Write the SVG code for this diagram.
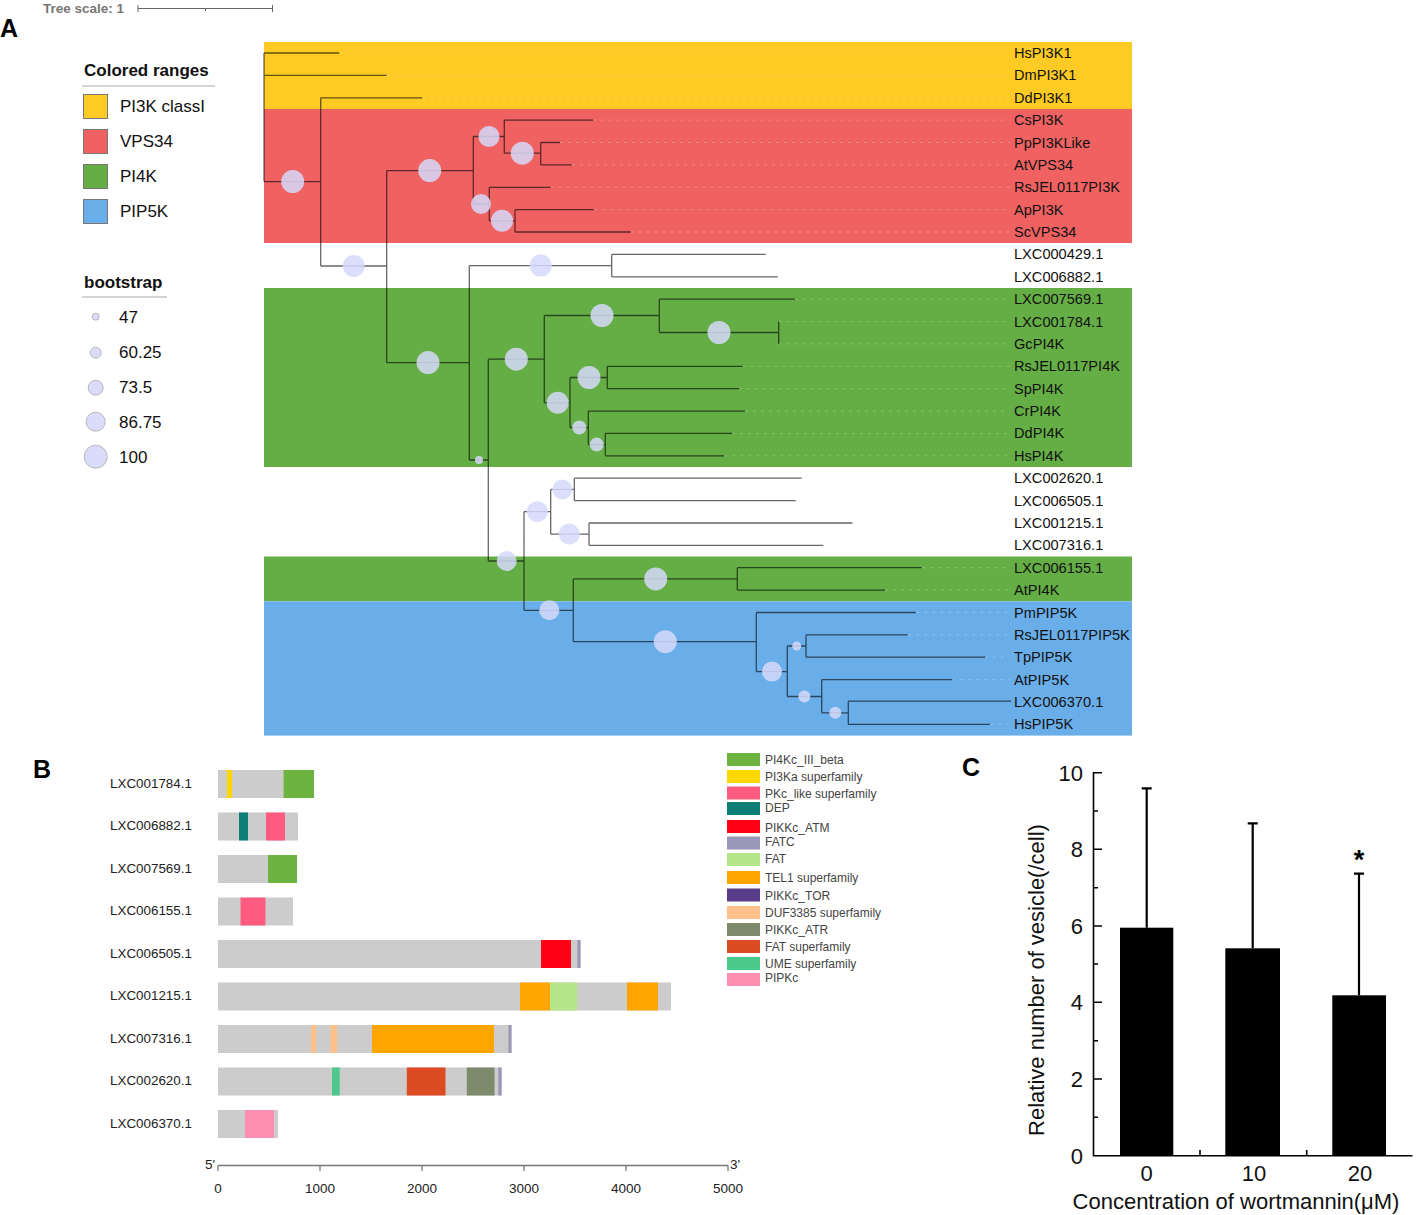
<svg xmlns="http://www.w3.org/2000/svg" width="1416" height="1215" viewBox="0 0 1416 1215">
<style>
text{font-family:"Liberation Sans",Arial,sans-serif;fill:#111}
.leaf{font-size:14.6px}
.br{stroke:#000;stroke-opacity:0.6;stroke-width:1.3;fill:none}
.ld{stroke:#e8e8e8;stroke-opacity:0.3;stroke-width:1;stroke-dasharray:3 5;fill:none}
.bs{fill:#d6d9fa;fill-opacity:0.85}
.lg{font-size:17px}
.lgb{font-size:17px;font-weight:bold}
.blab{font-size:13.4px;fill:#222}
.dl{font-size:12px;fill:#444}
.ax{font-size:13.5px;fill:#222}
.ct{font-size:22px;fill:#111}
.pl{font-size:25px;font-weight:bold;fill:#000}
</style>

<!-- Panel A -->
<text class="pl" x="0" y="37">A</text>
<g id="tree-scale">
<text x="43" y="13" style="font-size:13.5px;font-weight:bold;fill:#777">Tree scale: 1</text>
<path d="M138 8.5H272.5M138 5V12M272.5 5V12M205.5 8.5V11" stroke="#666" stroke-width="1" fill="none"/>
</g>

<g id="colored-ranges">
<rect x="264" y="42" width="868" height="67" fill="#fecb24"/>
<rect x="264" y="109" width="868" height="134" fill="#f06262"/>
<rect x="264" y="288" width="868" height="179" fill="#65ae45"/>
<rect x="264" y="556.5" width="868" height="44.8" fill="#65ae45"/>
<rect x="264" y="601.3" width="868" height="134.3" fill="#6aaee9"/>
</g>

<g id="legend-ranges">
<text class="lgb" x="84" y="76">Colored ranges</text>
<line x1="82" y1="86" x2="215" y2="86" stroke="#aaa" stroke-width="1.2"/>
<rect x="83.5" y="94.5" width="24" height="24" fill="#fecb24" stroke="#777"/>
<text class="lg" x="120" y="112">PI3K classI</text>
<rect x="83.5" y="129.5" width="24" height="24" fill="#f06262" stroke="#777"/>
<text class="lg" x="120" y="147">VPS34</text>
<rect x="83.5" y="164.5" width="24" height="24" fill="#65ae45" stroke="#777"/>
<text class="lg" x="120" y="182">PI4K</text>
<rect x="83.5" y="199.5" width="24" height="24" fill="#6aaee9" stroke="#777"/>
<text class="lg" x="120" y="217">PIP5K</text>
</g>

<g id="legend-bootstrap">
<text class="lgb" x="84" y="288">bootstrap</text>
<line x1="82" y1="297" x2="167" y2="297" stroke="#aaa" stroke-width="1.2"/>
<circle cx="95.7" cy="316.7" r="3.5" fill="#dadcfa" stroke="#aaa" stroke-width="0.8"/>
<text class="lg" x="119" y="322.5">47</text>
<circle cx="95.7" cy="352.7" r="5.5" fill="#dadcfa" stroke="#aaa" stroke-width="0.8"/>
<text class="lg" x="119" y="358">60.25</text>
<circle cx="95.7" cy="387.7" r="7.5" fill="#dadcfa" stroke="#aaa" stroke-width="0.8"/>
<text class="lg" x="119" y="393">73.5</text>
<circle cx="95.7" cy="421.7" r="9.5" fill="#dadcfa" stroke="#aaa" stroke-width="0.8"/>
<text class="lg" x="119" y="428">86.75</text>
<circle cx="95.7" cy="456.7" r="11.5" fill="#dadcfa" stroke="#aaa" stroke-width="0.8"/>
<text class="lg" x="119" y="463">100</text>
</g>

<g id="leaders">
<path class="ld" d="M339 53H1010M387 75.4H1010M422 97.8H1010M593 120.1H1010M560 142.5H1010M572 164.9H1010M551 187.3H1010M594 209.7H1010M631 232H1010M766 254.4H1010M778 276.8H1010M795 299.2H1010M779 321.6H1010M779 343.9H1010M743 366.3H1010M739 388.7H1010M745 411.1H1010M732 433.4H1010M724 455.8H1010M802 478.2H1010M796 500.6H1010M852 523H1010M823 545.3H1010M922 567.7H1010M885 590.1H1010M916 612.5H1010M908 634.8H1010M985 657.2H1010M952 679.6H1010M990 724.4H1010"/>
</g>

<g id="connectors">
<path class="br" d="M264 53V181.6M264 53H339.3M264 75.4H386.7M264 181.6H320.7
M320.7 97.8V266M320.7 97.8H422.3M320.7 266H386.7
M386.7 170.6V362.6M386.7 170.6H473.3M386.7 362.6H469.3
M473.3 136.5V204M473.3 136.5H504.3M473.3 204H489.3
M504.3 120.1V153.2M504.3 120.1H593.3M504.3 153.2H540.7
M540.7 142.5V164.9M540.7 142.5H560M540.7 164.9H571.7
M489.3 187.3V220.8M489.3 187.3H550.7M489.3 220.8H515
M515 209.7V232M515 209.7H594M515 232H630.7
M469.3 265.6V460M469.3 265.6H611.7M469.3 460H488.3
M611.7 254.4V276.8M611.7 254.4H765.7M611.7 276.8H777.7
M488.3 359.2V561M488.3 359.2H544.3M488.3 561H524
M544.3 315.5V402.8M544.3 315.5H659.3M544.3 402.8H570
M659.3 299.2V332.5M659.3 299.2H795M659.3 332.5H778.7M778.7 321.6V343.9
M570 377.5V427.5M570 377.5H607.3M570 427.5H588.3
M607.3 366.3V388.7M607.3 366.3H742.7M607.3 388.7H739.3
M588.3 411.1V444.6M588.3 411.1H745M588.3 444.6H605.3
M605.3 433.4V455.8M605.3 433.4H732.3M605.3 455.8H724.3
M524 511.7V610.3M524 511.7H550.7M524 610.3H573.3
M550.7 489.4V534.1M550.7 489.4H574.3M550.7 534.1H589
M574.3 478.2V500.6M574.3 478.2H801.7M574.3 500.6H795.7
M589 523V545.3M589 523H852.3M589 545.3H823.3
M573.3 578.9V641.7M573.3 578.9H737.3M573.3 641.7H756.3
M737.3 567.7V590.1M737.3 567.7H921.7M737.3 590.1H885
M756.3 612.5V671.6M756.3 612.5H915.7M756.3 671.6H787.3
M787.3 646V696.5M787.3 646H806M787.3 696.5H821.7
M806 634.8V657.2M806 634.8H907.7M806 657.2H985.3
M821.7 679.6V712.8M821.7 679.6H952.3M821.7 712.8H848.3
M848.3 701.2V724.4M848.3 701.2H1011M848.3 724.4H990"/>
</g>

<g id="bootstrap-circles">
<circle class="bs" cx="292.7" cy="181.6" r="11.5"/>
<circle class="bs" cx="353.7" cy="266" r="11"/>
<circle class="bs" cx="429.7" cy="170.6" r="11.5"/>
<circle class="bs" cx="489" cy="136.5" r="10.5"/>
<circle class="bs" cx="522.3" cy="153.2" r="11.5"/>
<circle class="bs" cx="481" cy="204" r="10"/>
<circle class="bs" cx="502" cy="220.8" r="11"/>
<circle class="bs" cx="428" cy="362.6" r="11.5"/>
<circle class="bs" cx="540.7" cy="265.6" r="11"/>
<circle class="bs" cx="479" cy="460" r="4"/>
<circle class="bs" cx="516.3" cy="359.2" r="11.5"/>
<circle class="bs" cx="602" cy="315.5" r="11.5"/>
<circle class="bs" cx="719" cy="332.5" r="11.5"/>
<circle class="bs" cx="557.7" cy="402.8" r="11"/>
<circle class="bs" cx="589" cy="377.5" r="11.5"/>
<circle class="bs" cx="579.3" cy="427.5" r="7"/>
<circle class="bs" cx="596.7" cy="444.6" r="7"/>
<circle class="bs" cx="506.7" cy="561" r="10"/>
<circle class="bs" cx="537.3" cy="511.7" r="10.5"/>
<circle class="bs" cx="562.3" cy="489.4" r="10"/>
<circle class="bs" cx="569.3" cy="534.1" r="10.5"/>
<circle class="bs" cx="549.3" cy="610.3" r="10"/>
<circle class="bs" cx="655.7" cy="578.9" r="11.5"/>
<circle class="bs" cx="665.3" cy="641.7" r="11.5"/>
<circle class="bs" cx="772" cy="671.6" r="10"/>
<circle class="bs" cx="796.7" cy="646" r="4.5"/>
<circle class="bs" cx="804.3" cy="696.5" r="6"/>
<circle class="bs" cx="835.3" cy="712.8" r="6"/>
</g>

<g id="leaf-labels" class="leaf">
<g id="leaf-HsPI3K1"><text class="leaf" x="1014" y="58">HsPI3K1</text></g>
<g id="leaf-DmPI3K1"><text class="leaf" x="1014" y="80.4">DmPI3K1</text></g>
<g id="leaf-DdPI3K1"><text class="leaf" x="1014" y="102.8">DdPI3K1</text></g>
<g id="leaf-CsPI3K"><text class="leaf" x="1014" y="125.1">CsPI3K</text></g>
<g id="leaf-PpPI3KLike"><text class="leaf" x="1014" y="147.5">PpPI3KLike</text></g>
<g id="leaf-AtVPS34"><text class="leaf" x="1014" y="169.9">AtVPS34</text></g>
<g id="leaf-RsJEL0117PI3K"><text class="leaf" x="1014" y="192.3">RsJEL0117PI3K</text></g>
<g id="leaf-ApPI3K"><text class="leaf" x="1014" y="214.7">ApPI3K</text></g>
<g id="leaf-ScVPS34"><text class="leaf" x="1014" y="237">ScVPS34</text></g>
<g id="leaf-LXC000429"><text class="leaf" x="1014" y="259.4">LXC000429.1</text></g>
<g id="leaf-LXC006882"><text class="leaf" x="1014" y="281.8">LXC006882.1</text></g>
<g id="leaf-LXC007569"><text class="leaf" x="1014" y="304.2">LXC007569.1</text></g>
<g id="leaf-LXC001784"><text class="leaf" x="1014" y="326.6">LXC001784.1</text></g>
<g id="leaf-GcPI4K"><text class="leaf" x="1014" y="348.9">GcPI4K</text></g>
<g id="leaf-RsJEL0117PI4K"><text class="leaf" x="1014" y="371.3">RsJEL0117PI4K</text></g>
<g id="leaf-SpPI4K"><text class="leaf" x="1014" y="393.7">SpPI4K</text></g>
<g id="leaf-CrPI4K"><text class="leaf" x="1014" y="416.1">CrPI4K</text></g>
<g id="leaf-DdPI4K"><text class="leaf" x="1014" y="438.4">DdPI4K</text></g>
<g id="leaf-HsPI4K"><text class="leaf" x="1014" y="460.8">HsPI4K</text></g>
<g id="leaf-LXC002620"><text class="leaf" x="1014" y="483.2">LXC002620.1</text></g>
<g id="leaf-LXC006505"><text class="leaf" x="1014" y="505.6">LXC006505.1</text></g>
<g id="leaf-LXC001215"><text class="leaf" x="1014" y="528">LXC001215.1</text></g>
<g id="leaf-LXC007316"><text class="leaf" x="1014" y="550.3">LXC007316.1</text></g>
<g id="leaf-LXC006155"><text class="leaf" x="1014" y="572.7">LXC006155.1</text></g>
<g id="leaf-AtPI4K"><text class="leaf" x="1014" y="595.1">AtPI4K</text></g>
<g id="leaf-PmPIP5K"><text class="leaf" x="1014" y="617.5">PmPIP5K</text></g>
<g id="leaf-RsJEL0117PIP5K"><text class="leaf" x="1014" y="639.8">RsJEL0117PIP5K</text></g>
<g id="leaf-TpPIP5K"><text class="leaf" x="1014" y="662.2">TpPIP5K</text></g>
<g id="leaf-AtPIP5K"><text class="leaf" x="1014" y="684.6">AtPIP5K</text></g>
<g id="leaf-LXC006370"><text class="leaf" x="1014" y="707">LXC006370.1</text></g>
<g id="leaf-HsPIP5K"><text class="leaf" x="1014" y="729.4">HsPIP5K</text></g>
</g>

<!-- Panel B -->
<text class="pl" x="33" y="778">B</text>
<g id="domains">
<g id="row-LXC001784"><text class="blab" x="110" y="787.5">LXC001784.1</text>
<rect x="218" y="770" width="96" height="28" fill="#cccccc"/><rect x="227" y="770" width="5" height="28" fill="#ffd700"/><rect x="283.6" y="770" width="30.4" height="28" fill="#6db33f"/></g>
<g id="row-LXC006882"><text class="blab" x="110" y="830">LXC006882.1</text>
<rect x="218" y="812.5" width="80" height="28" fill="#cccccc"/><rect x="239" y="812.5" width="9" height="28" fill="#0d7f76"/><rect x="266" y="812.5" width="19" height="28" fill="#ff5a80"/></g>
<g id="row-LXC007569"><text class="blab" x="110" y="872.5">LXC007569.1</text>
<rect x="218" y="855" width="79" height="28" fill="#cccccc"/><rect x="268" y="855" width="29" height="28" fill="#6db33f"/></g>
<g id="row-LXC006155"><text class="blab" x="110" y="915">LXC006155.1</text>
<rect x="218" y="897.5" width="75" height="28" fill="#cccccc"/><rect x="240.5" y="897.5" width="25" height="28" fill="#ff5a80"/></g>
<g id="row-LXC006505"><text class="blab" x="110" y="957.5">LXC006505.1</text>
<rect x="218" y="940" width="362.5" height="28" fill="#cccccc"/><rect x="541" y="940" width="30" height="28" fill="#ff0015"/><rect x="577.5" y="940" width="3" height="28" fill="#9a96b8"/></g>
<g id="row-LXC001215"><text class="blab" x="110" y="1000">LXC001215.1</text>
<rect x="218" y="982.5" width="453" height="28" fill="#cccccc"/><rect x="520" y="982.5" width="30" height="28" fill="#ffa500"/><rect x="550" y="982.5" width="27" height="28" fill="#b5e68a"/><rect x="627" y="982.5" width="31" height="28" fill="#ffa500"/></g>
<g id="row-LXC007316"><text class="blab" x="110" y="1042.5">LXC007316.1</text>
<rect x="218" y="1025" width="293.5" height="28" fill="#cccccc"/><rect x="311" y="1025" width="5" height="28" fill="#ffc08a"/><rect x="330.5" y="1025" width="6.5" height="28" fill="#ffc08a"/><rect x="372" y="1025" width="122" height="28" fill="#ffa500"/><rect x="508.5" y="1025" width="3" height="28" fill="#9a96b8"/></g>
<g id="row-LXC002620"><text class="blab" x="110" y="1085">LXC002620.1</text>
<rect x="218" y="1067.5" width="283.6" height="28" fill="#cccccc"/><rect x="332" y="1067.5" width="7.7" height="28" fill="#4cc98a"/><rect x="406.8" y="1067.5" width="38.7" height="28" fill="#dd4b22"/><rect x="466.8" y="1067.5" width="27.7" height="28" fill="#7e8a6c"/><rect x="498.4" y="1067.5" width="3.2" height="28" fill="#9a96b8"/></g>
<g id="row-LXC006370"><text class="blab" x="110" y="1127.5">LXC006370.1</text>
<rect x="218" y="1110" width="60" height="28" fill="#cccccc"/><rect x="245" y="1110" width="29" height="28" fill="#ff8fb0"/></g>
</g>
<g id="b-axis">
<path d="M218 1165.5H728M218 1165.5V1171M320 1165.5V1171M422 1165.5V1171M524 1165.5V1171M626 1165.5V1171M728 1165.5V1171" stroke="#777" stroke-width="1.3" fill="none"/>
<text class="ax" x="205" y="1169">5'</text>
<text class="ax" x="730" y="1169">3'</text>
<g text-anchor="middle">
<text class="ax" x="218" y="1193">0</text>
<text class="ax" x="320" y="1193">1000</text>
<text class="ax" x="422" y="1193">2000</text>
<text class="ax" x="524" y="1193">3000</text>
<text class="ax" x="626" y="1193">4000</text>
<text class="ax" x="728" y="1193">5000</text>
</g>
</g>
<g id="domain-legend">
<rect x="727" y="753" width="33" height="13" fill="#6db33f"/><text class="dl" x="765" y="763.5">PI4Kc_III_beta</text>
<rect x="727" y="770" width="33" height="13" fill="#ffd700"/><text class="dl" x="765" y="780.5">PI3Ka superfamily</text>
<rect x="727" y="786.5" width="33" height="13" fill="#ff5a80"/><text class="dl" x="765" y="797.5">PKc_like superfamily</text>
<rect x="727" y="802" width="33" height="13" fill="#0d7f76"/><text class="dl" x="765" y="811.5">DEP</text>
<rect x="727" y="820" width="33" height="13" fill="#ff0015"/><text class="dl" x="765" y="831.5">PIKKc_ATM</text>
<rect x="727" y="836.5" width="33" height="13" fill="#9a96b8"/><text class="dl" x="765" y="846">FATC</text>
<rect x="727" y="853" width="33" height="13" fill="#b5e68a"/><text class="dl" x="765" y="863">FAT</text>
<rect x="727" y="871" width="33" height="13" fill="#ffa500"/><text class="dl" x="765" y="882">TEL1 superfamily</text>
<rect x="727" y="888.5" width="33" height="13" fill="#5a3d8a"/><text class="dl" x="765" y="899.5">PIKKc_TOR</text>
<rect x="727" y="906" width="33" height="13" fill="#ffc08a"/><text class="dl" x="765" y="917">DUF3385 superfamily</text>
<rect x="727" y="923" width="33" height="13" fill="#7e8a6c"/><text class="dl" x="765" y="933.5">PIKKc_ATR</text>
<rect x="727" y="940" width="33" height="13" fill="#dd4b22"/><text class="dl" x="765" y="950.5">FAT superfamily</text>
<rect x="727" y="957" width="33" height="13" fill="#4cc98a"/><text class="dl" x="765" y="968">UME superfamily</text>
<rect x="727" y="973" width="33" height="13" fill="#ff8fb0"/><text class="dl" x="765" y="982">PIPKc</text>
</g>

<!-- Panel C -->
<text class="pl" x="962" y="776">C</text>
<g id="c-axes">
<path d="M1093.5 772V1155.7H1412.5M1093.5 772.7H1102M1093.5 849.3H1102M1093.5 926H1102M1093.5 1002.3H1102M1093.5 1079H1102M1093.5 811H1098M1093.5 887.7H1098M1093.5 964H1098M1093.5 1040.7H1098M1093.5 1117.3H1098M1200 1155.7V1150M1306.7 1155.7V1150" stroke="#000" stroke-width="1.6" fill="none"/>
<g text-anchor="end">
<text class="ct" x="1083" y="780.5">10</text>
<text class="ct" x="1083" y="857">8</text>
<text class="ct" x="1083" y="934">6</text>
<text class="ct" x="1083" y="1010">4</text>
<text class="ct" x="1083" y="1087">2</text>
<text class="ct" x="1083" y="1163.5">0</text>
</g>
<g text-anchor="middle">
<text class="ct" x="1146.7" y="1181">0</text>
<text class="ct" x="1254" y="1181">10</text>
<text class="ct" x="1360" y="1181">20</text>
<text class="ct" x="1236" y="1209">Concentration of wortmannin(μM)</text>
<text class="ct" transform="translate(1044 980) rotate(-90)" x="0" y="0">Relative number of vesicle(/cell)</text>
</g>
</g>
<g id="c-bars">
<path d="M1146.7 927.7V788.3M1141.7 788.3H1151.7M1252.7 948.3V823.3M1247.7 823.3H1257.7M1359 995.3V873.7M1354 873.7H1364" stroke="#000" stroke-width="2.2" fill="none"/>
<rect x="1120" y="927.7" width="53.3" height="228" fill="#000"/>
<rect x="1225.3" y="948.3" width="54.7" height="207.4" fill="#000"/>
<rect x="1332.3" y="995.3" width="53.7" height="160.4" fill="#000"/>
<text x="1359" y="869" text-anchor="middle" style="font-size:27px;font-weight:bold;fill:#000">*</text>
</g>
</svg>
